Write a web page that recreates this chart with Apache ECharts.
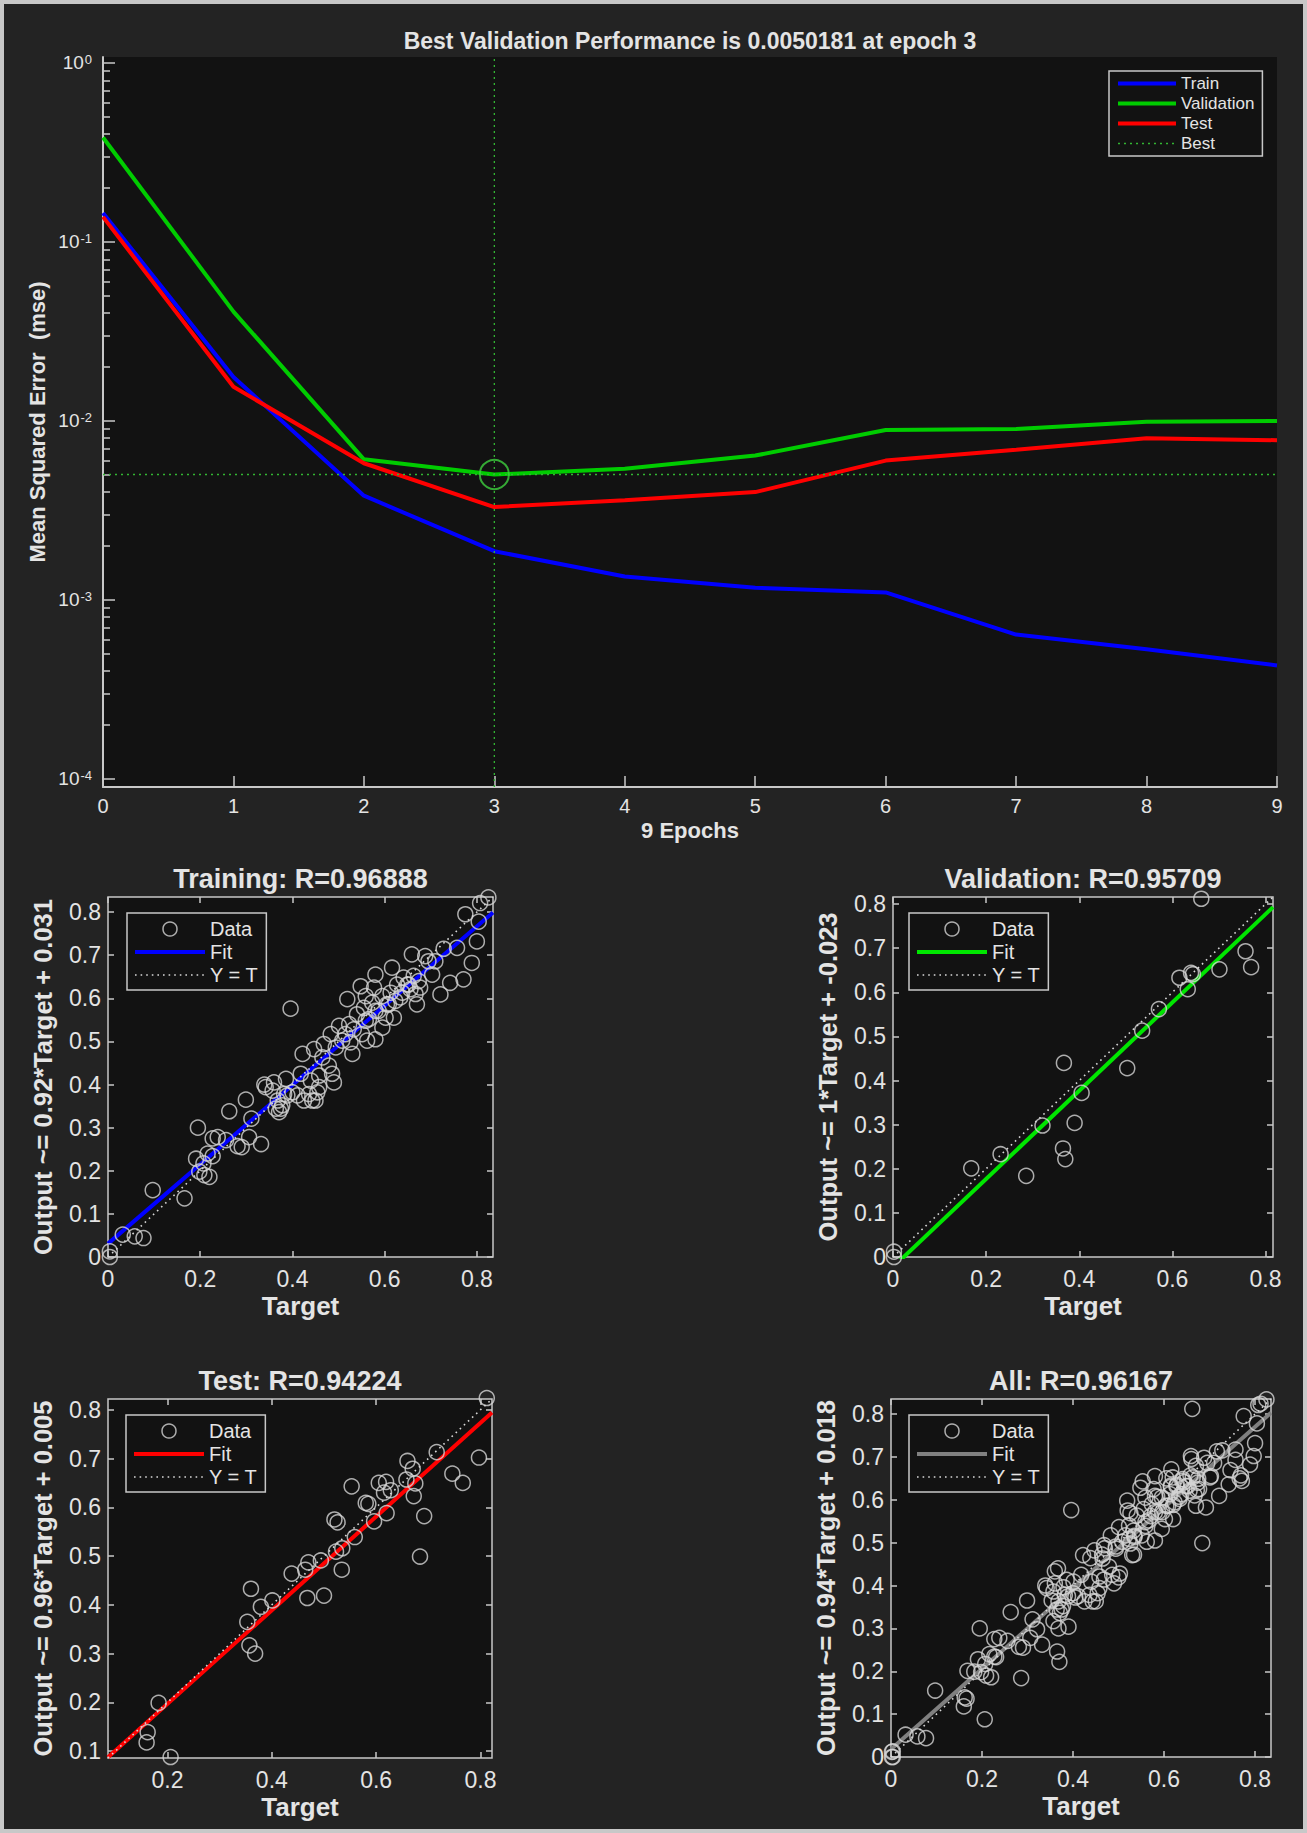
<!DOCTYPE html>
<html>
<head>
<meta charset="utf-8">
<title>Neural network training performance and regression</title>
<script src="https://cdn.jsdelivr.net/npm/echarts@6/dist/echarts.min.js"></script>
<style>
html, body { margin: 0; padding: 0; background: #232323; }
#main { width: 1307px; height: 1833px; }
</style>
</head>
<body>
<div id="main"></div>
<script>
// ---------------- performance curve data ----------------
var epochs    = [0, 1, 2, 3, 4, 5, 6, 7, 8, 9];
var trainPerf = [0.145, 0.0176, 0.00382, 0.00187, 0.00135, 0.00117, 0.00110, 0.00064, 0.00053, 0.00043];
var valPerf   = [0.383, 0.0408, 0.0061, 0.0050181, 0.0054, 0.0064, 0.0089, 0.0090, 0.0099, 0.0100];
var testPerf  = [0.138, 0.0155, 0.0058, 0.0033, 0.0036, 0.0040, 0.0060, 0.0069, 0.0080, 0.0078];
var bestEpoch = 3;
var bestPerf  = 0.0050181;
var perfYLim  = [9.0e-5, 1.08];
var perfExpTicks = [-4, -3, -2, -1, 0];

// ---------------- regression data [target, output] ----------------
var trainPoints = [
  [0.004,0.013],[0.004,0.0],[0.032,0.052],[0.058,0.048],[0.077,0.044],[0.097,0.155],[0.166,0.136],
  [0.191,0.228],[0.195,0.300],[0.198,0.198],[0.209,0.190],[0.220,0.186],[0.207,0.217],[0.216,0.240],
  [0.227,0.234],[0.227,0.275],[0.238,0.278],[0.256,0.271],[0.263,0.338],[0.281,0.257],[0.290,0.255],
  [0.299,0.365],[0.306,0.278],[0.311,0.321],[0.332,0.262],[0.342,0.394],[0.357,0.386],[0.364,0.344],
  [0.371,0.336],[0.375,0.344],[0.382,0.378],[0.386,0.413],[0.396,0.576],[0.400,0.382],[0.411,0.375],
  [0.418,0.425],[0.422,0.471],[0.425,0.363],[0.440,0.409],[0.447,0.482],[0.450,0.363],[0.454,0.382],
  [0.458,0.421],[0.465,0.463],[0.468,0.494],[0.479,0.444],[0.483,0.517],[0.486,0.425],[0.490,0.405],
  [0.494,0.486],[0.501,0.536],[0.508,0.502],[0.515,0.517],[0.519,0.598],[0.523,0.540],[0.526,0.498],
  [0.530,0.471],[0.533,0.528],[0.540,0.563],[0.548,0.628],[0.551,0.517],[0.555,0.578],[0.559,0.605],
  [0.562,0.502],[0.566,0.552],[0.573,0.590],[0.577,0.625],[0.580,0.655],[0.580,0.505],[0.587,0.571],
  [0.595,0.605],[0.602,0.555],[0.605,0.586],[0.613,0.613],[0.616,0.671],[0.620,0.555],[0.627,0.632],
  [0.634,0.602],[0.641,0.648],[0.649,0.632],[0.656,0.621],[0.659,0.702],[0.667,0.610],[0.670,0.586],
  [0.674,0.640],[0.677,0.625],[0.688,0.698],[0.695,0.686],[0.703,0.655],[0.710,0.686],[0.721,0.609],
  [0.728,0.715],[0.742,0.636],[0.757,0.717],[0.771,0.644],[0.775,0.795],[0.789,0.682],[0.800,0.732],
  [0.804,0.778],[0.807,0.821],[0.825,0.834],
  [0.339,0.400],[0.360,0.405],[0.368,0.363],[0.378,0.352],[0.389,0.375],[0.436,0.378],[0.443,0.363],
  [0.458,0.394],[0.559,0.548],[0.580,0.571],[0.595,0.532],[0.609,0.586],[0.623,0.594],[0.638,0.613],
  [0.652,0.632],[0.663,0.652]
];
var valPoints = [
  [0.002,0.012],[0.002,0.0],[0.168,0.201],[0.231,0.233],[0.286,0.184],[0.321,0.298],[0.367,0.440],
  [0.365,0.246],[0.370,0.222],[0.390,0.304],[0.405,0.372],[0.503,0.428],[0.535,0.513],[0.571,0.562],
  [0.615,0.633],[0.633,0.607],[0.640,0.644],[0.644,0.641],[0.662,0.812],[0.701,0.652],[0.757,0.693],
  [0.769,0.657]
];
var testPoints = [
  [0.162,0.139],[0.160,0.118],[0.183,0.199],[0.206,0.088],[0.360,0.433],[0.353,0.365],[0.357,0.317],
  [0.368,0.300],[0.379,0.396],[0.401,0.409],[0.438,0.464],[0.464,0.472],[0.470,0.487],[0.468,0.414],
  [0.494,0.491],[0.500,0.419],[0.520,0.575],[0.526,0.569],[0.523,0.509],[0.535,0.516],[0.534,0.472],
  [0.553,0.643],[0.559,0.539],[0.580,0.609],[0.585,0.607],[0.596,0.571],[0.605,0.650],[0.615,0.630],
  [0.619,0.652],[0.628,0.635],[0.620,0.588],[0.660,0.695],[0.658,0.657],[0.670,0.679],[0.675,0.649],
  [0.672,0.623],[0.684,0.499],[0.692,0.582],[0.716,0.713],[0.746,0.669],[0.766,0.650],[0.797,0.702],
  [0.812,0.824]
];
var allPoints = trainPoints.concat(valPoints, testPoints);

var fitSlope     = [0.92, 1, 0.96, 0.94];
var fitIntercept = [0.031, -0.023, 0.005, 0.018];
var panelTitles  = ['Training: R=0.96888', 'Validation: R=0.95709', 'Test: R=0.94224', 'All: R=0.96167'];
var panelYNames  = ['Output ~= 0.92*Target + 0.031', 'Output ~= 1*Target + -0.023',
                    'Output ~= 0.96*Target + 0.005', 'Output ~= 0.94*Target + 0.018'];
var panelLims    = [[0, 0.835], [0, 0.816], [0.086, 0.822], [0, 0.835]];
var xTickFull    = [0, 0.2, 0.4, 0.6, 0.8];
var xTickTest    = [0.2, 0.4, 0.6, 0.8];
var yTickFull    = [0, 0.1, 0.2, 0.3, 0.4, 0.5, 0.6, 0.7, 0.8];
var yTickTest    = [0.1, 0.2, 0.3, 0.4, 0.5, 0.6, 0.7, 0.8];

// ---------------- styling / layout ----------------
var FONT = "'Liberation Sans', Arial, Helvetica, sans-serif";
var TXT = '#e4e4e4';
var EDGE = '#c8c8c8';
var PLOT_BG = '#121212';

var panels = [
  { key: 'tr', pts: trainPoints, color: '#0000ff', box: [108, 897, 385, 360], leg: [127, 913], xt: xTickFull, yt: yTickFull },
  { key: 'va', pts: valPoints,   color: '#00e600', box: [893, 897, 380, 360], leg: [909, 913], xt: xTickFull, yt: yTickFull },
  { key: 'te', pts: testPoints,  color: '#ff0000', box: [108, 1399, 384, 359], leg: [126, 1415], xt: xTickTest, yt: yTickTest },
  { key: 'al', pts: allPoints,   color: '#808080', box: [891, 1399, 380, 358], leg: [909, 1415], xt: xTickFull, yt: yTickFull }
];

var legendText = {};

function zip(xs, ys) {
  var out = [];
  for (var i = 0; i < xs.length; i++) out.push([xs[i], ys[i]]);
  return out;
}

function label(x, y, text, size, rot) {
  return {
    type: 'text', x: x, y: y, rotation: rot ? Math.PI / 2 : 0, z: 10,
    style: { text: text, fill: TXT, font: 'bold ' + size + 'px ' + FONT, align: 'center', verticalAlign: 'middle' }
  };
}

var option = {
  backgroundColor: '#232323',
  animation: false,
  textStyle: { fontFamily: FONT },
  grid: [], xAxis: [], yAxis: [], series: [], legend: [], graphic: []
};

// ---------------- performance plot ----------------
var expLo = Math.log10(perfYLim[0]), expHi = Math.log10(perfYLim[1]);
var minorExp = [];
for (var e = -5; e <= 0; e++) {
  for (var k = 2; k <= 9; k++) {
    var v = e + Math.log10(k);
    if (v > expLo && v < expHi) minorExp.push(v);
  }
}

option.grid.push({ left: 103, top: 57, width: 1174, height: 730, show: true, backgroundColor: PLOT_BG, borderWidth: 0 });
option.xAxis.push({
  type: 'value', gridIndex: 0, position: 'bottom', min: 0, max: 9, interval: 1,
  splitLine: { show: false },
  axisLine: { show: true, onZero: false, lineStyle: { color: EDGE, width: 2 } },
  axisTick: { show: true, inside: true, length: 11, lineStyle: { color: EDGE, width: 1.5 } },
  axisLabel: { color: TXT, fontSize: 20, margin: 9, fontFamily: FONT }
});
// data axis (log) + exponent axes for labels and minor ticks
option.yAxis.push({ type: 'log', gridIndex: 0, position: 'left', min: perfYLim[0], max: perfYLim[1], show: false });
option.yAxis.push({
  type: 'value', gridIndex: 0, position: 'left', min: expLo, max: expHi,
  splitLine: { show: false },
  axisLine: { show: true, onZero: false, lineStyle: { color: EDGE, width: 2 } },
  axisTick: { show: true, inside: true, length: 12, customValues: perfExpTicks, lineStyle: { color: EDGE, width: 1.5 } },
  axisLabel: {
    customValues: perfExpTicks, margin: 11,
    formatter: function (v) { return '{b|10}{s|' + v + '}'; },
    rich: {
      b: { fontSize: 19, color: TXT, fontFamily: FONT, lineHeight: 19, verticalAlign: 'bottom' },
      s: { fontSize: 13, color: TXT, fontFamily: FONT, lineHeight: 13, verticalAlign: 'top', padding: [0, 0, 10, 1] }
    }
  }
});
option.yAxis.push({
  type: 'value', gridIndex: 0, position: 'left', min: expLo, max: expHi,
  splitLine: { show: false }, axisLine: { show: false, onZero: false }, axisLabel: { show: false },
  axisTick: { show: true, inside: true, length: 7, customValues: minorExp, lineStyle: { color: EDGE, width: 1.5 } }
});

function perfLine(name, vals, color) {
  return {
    type: 'line', name: name, xAxisIndex: 0, yAxisIndex: 0, data: zip(epochs, vals),
    symbol: 'none', lineStyle: { color: color, width: 4 }, itemStyle: { color: color }, z: 3
  };
}
option.series.push(perfLine('Train', trainPerf, '#0000ff'));
option.series.push(perfLine('Validation', valPerf, '#00cc00'));
option.series.push(perfLine('Test', testPerf, '#ff0000'));
var bestStyle = { color: '#33b533', width: 1.3, type: [2, 4] };
option.series.push({
  type: 'line', name: 'Best', xAxisIndex: 0, yAxisIndex: 0, symbol: 'none',
  data: [[bestEpoch, perfYLim[0]], [bestEpoch, perfYLim[1]]],
  lineStyle: bestStyle, itemStyle: { color: '#33b533' }, z: 4
});
option.series.push({
  type: 'line', name: 'bestH', xAxisIndex: 0, yAxisIndex: 0, symbol: 'none',
  data: [[epochs[0], bestPerf], [epochs[epochs.length - 1], bestPerf]],
  lineStyle: bestStyle, itemStyle: { color: '#33b533' }, z: 4
});
option.series.push({
  type: 'scatter', name: 'bestMark', xAxisIndex: 0, yAxisIndex: 0,
  data: [[bestEpoch, bestPerf]], symbol: 'circle', symbolSize: 29,
  itemStyle: { color: 'rgba(0,0,0,0)', borderColor: '#3fcf3f', borderWidth: 2 }, z: 5
});
option.legend.push({
  orient: 'vertical', left: 1109, top: 71, data: ['Train', 'Validation', 'Test', 'Best'],
  itemWidth: 58, itemHeight: 12, itemGap: 3, padding: [4, 8, 4, 7], selectedMode: false,
  backgroundColor: PLOT_BG, borderColor: EDGE, borderWidth: 1.5,
  lineStyle: { width: 'inherit' }, itemStyle: { opacity: 0 },
  textStyle: { color: TXT, fontSize: 17, fontFamily: FONT, lineHeight: 17 }
});
option.graphic.push(label(690, 41, 'Best Validation Performance is 0.0050181 at epoch 3', 23));
option.graphic.push(label(690, 830, '9 Epochs', 22));
option.graphic.push(label(37, 422, 'Mean Squared Error \u00a0(mse)', 22, true));

// ---------------- regression panels ----------------
panels.forEach(function (p, i) {
  var gi = option.grid.length;
  var lim = panelLims[i];
  option.grid.push({
    left: p.box[0], top: p.box[1], width: p.box[2], height: p.box[3],
    show: true, backgroundColor: PLOT_BG, borderColor: EDGE, borderWidth: 1.5
  });
  var tick = function (vals) {
    return { show: true, inside: true, length: 6, customValues: vals, lineStyle: { color: EDGE, width: 1.5 } };
  };
  var noLine = { show: false, onZero: false };
  var xi = option.xAxis.length, yi = option.yAxis.length;
  option.xAxis.push({
    type: 'value', gridIndex: gi, position: 'bottom', min: lim[0], max: lim[1],
    splitLine: { show: false }, axisLine: noLine, axisTick: tick(p.xt),
    axisLabel: { customValues: p.xt, color: TXT, fontSize: 23, margin: 10, fontFamily: FONT }
  });
  option.xAxis.push({
    type: 'value', gridIndex: gi, position: 'top', min: lim[0], max: lim[1],
    splitLine: { show: false }, axisLine: noLine, axisTick: tick(p.xt), axisLabel: { show: false }
  });
  option.yAxis.push({
    type: 'value', gridIndex: gi, position: 'left', min: lim[0], max: lim[1],
    splitLine: { show: false }, axisLine: noLine, axisTick: tick(p.yt),
    axisLabel: { customValues: p.yt, color: TXT, fontSize: 23, margin: 7, fontFamily: FONT }
  });
  option.yAxis.push({
    type: 'value', gridIndex: gi, position: 'right', min: lim[0], max: lim[1],
    splitLine: { show: false }, axisLine: noLine, axisTick: tick(p.yt), axisLabel: { show: false }
  });

  var a = fitSlope[i], b = fitIntercept[i];
  option.series.push({
    type: 'line', name: p.key + 'Fit', xAxisIndex: xi, yAxisIndex: yi, symbol: 'none',
    data: [[lim[0], a * lim[0] + b], [lim[1], a * lim[1] + b]],
    lineStyle: { color: p.color, width: 4 }, itemStyle: { color: p.color }, z: 2
  });
  option.series.push({
    type: 'line', name: p.key + 'YT', xAxisIndex: xi, yAxisIndex: yi, symbol: 'none',
    data: [[lim[0], lim[0]], [lim[1], lim[1]]],
    lineStyle: { color: '#d8d8d8', width: 1.6, type: [1.6, 4] }, itemStyle: { color: '#d8d8d8' }, z: 2
  });
  option.series.push({
    type: 'scatter', name: p.key + 'Data', xAxisIndex: xi, yAxisIndex: yi, data: p.pts,
    symbol: 'circle', symbolSize: 15, clip: false,
    itemStyle: { color: 'rgba(0,0,0,0)', borderColor: '#d4d4d4', borderWidth: 1.5 }, z: 3
  });
  legendText[p.key + 'Data'] = 'Data';
  legendText[p.key + 'Fit'] = 'Fit';
  legendText[p.key + 'YT'] = 'Y = T';
  option.legend.push({
    orient: 'vertical', left: p.leg[0], top: p.leg[1], selectedMode: false,
    data: [
      { name: p.key + 'Data' },
      { name: p.key + 'Fit', itemStyle: { opacity: 0 } },
      { name: p.key + 'YT', itemStyle: { opacity: 0 } }
    ],
    formatter: function (n) { return legendText[n] || n; },
    itemWidth: 70, itemHeight: 14, itemGap: 3, padding: [6, 8, 5, 6],
    backgroundColor: PLOT_BG, borderColor: EDGE, borderWidth: 1.5,
    lineStyle: { width: 'inherit' }, itemStyle: { borderWidth: 'inherit' },
    textStyle: { color: TXT, fontSize: 20, fontFamily: FONT, lineHeight: 20 }
  });

  var cx = p.box[0] + p.box[2] / 2, cy = p.box[1] + p.box[3] / 2;
  option.graphic.push(label(cx, p.box[1] - 18, panelTitles[i], 27));
  option.graphic.push(label(cx, p.box[1] + p.box[3] + 49, 'Target', 26));
  option.graphic.push(label(p.box[0] - 65, cy, panelYNames[i], 25.5, true));
});

// outer frame
option.graphic.push({
  type: 'rect', z: 20, shape: { x: 2, y: 2, width: 1303, height: 1829 },
  style: { fill: 'none', stroke: '#c8c8c8', lineWidth: 4 }
});

var chart = echarts.init(document.getElementById('main'), null, { renderer: 'svg' });
chart.setOption(option);
</script>
</body>
</html>
